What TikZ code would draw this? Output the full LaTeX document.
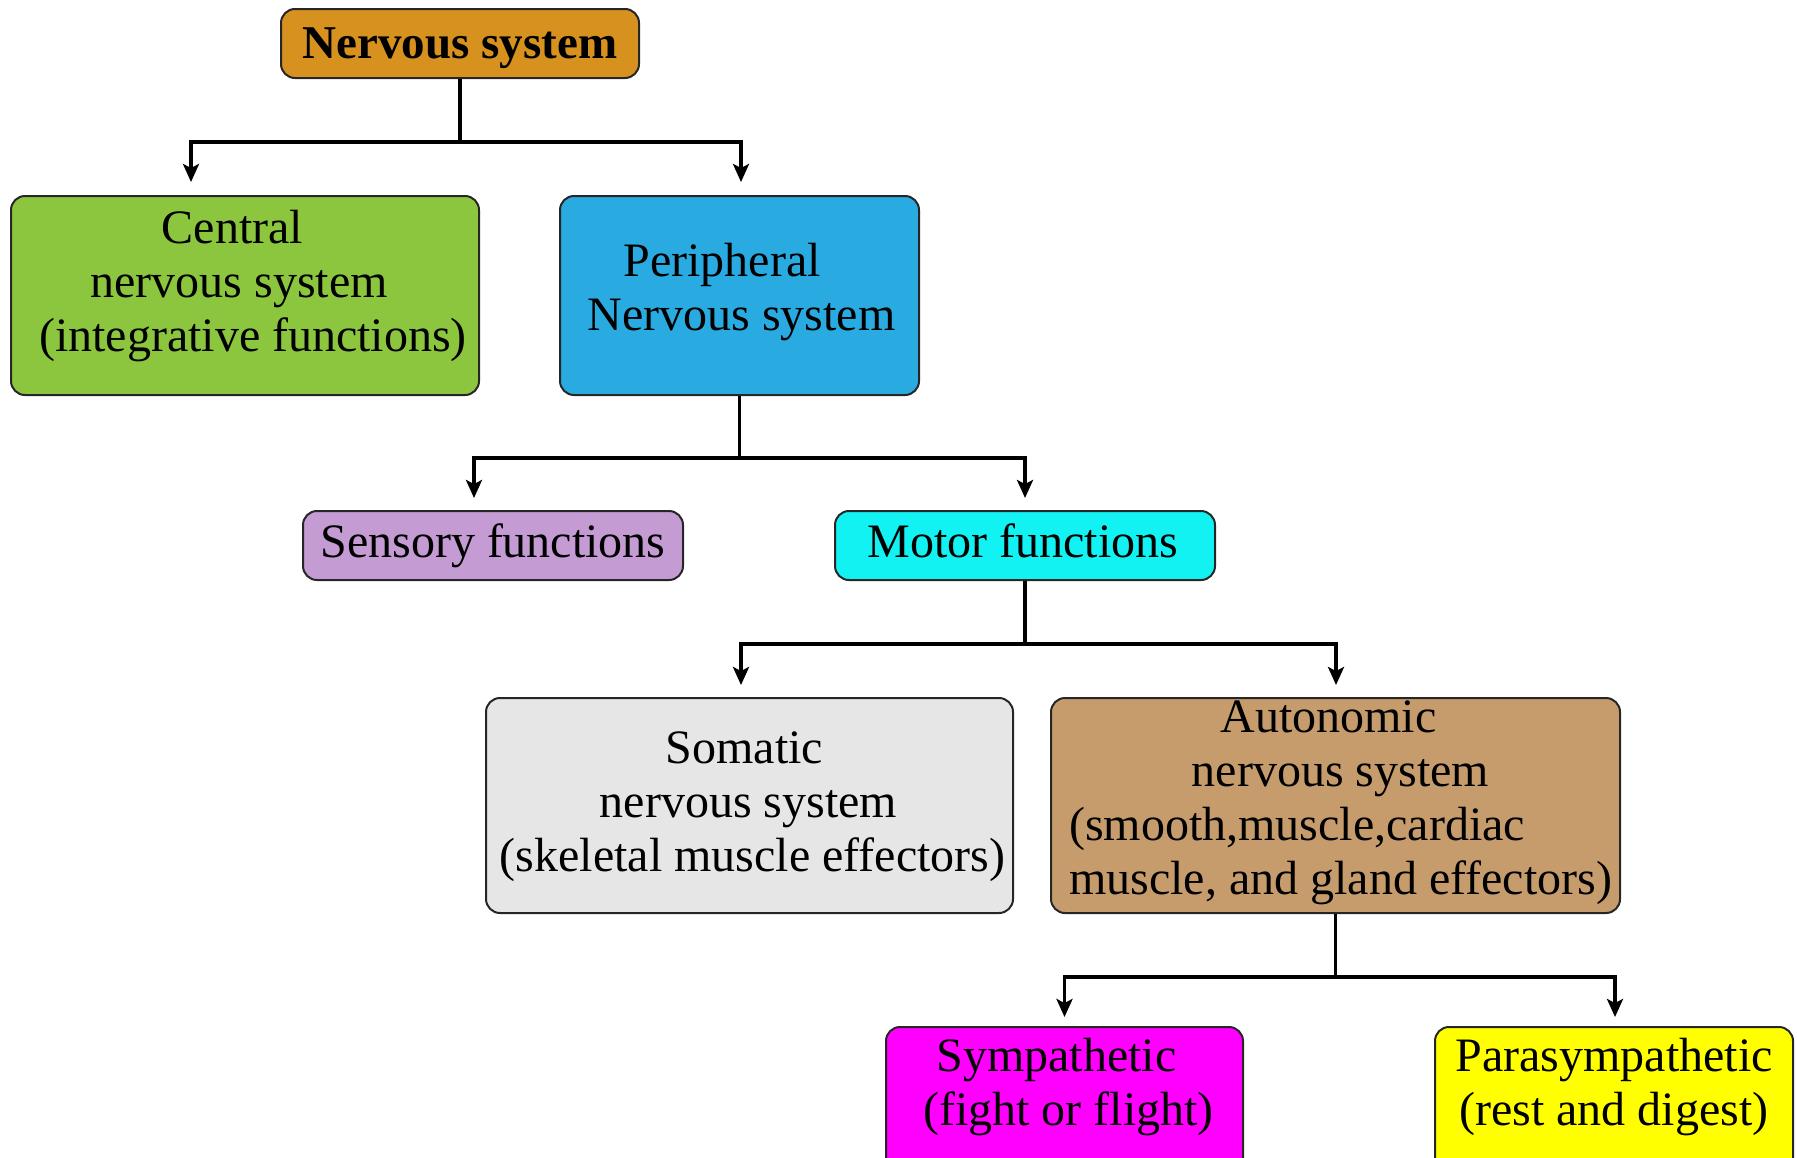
\documentclass[tikz,border=0pt]{standalone}
\usepackage{fontspec}
\setmainfont{Liberation Serif}
\usetikzlibrary{arrows.meta,calc}
\newlength\linewd
\definecolor{nsorange}{HTML}{D6911E}
\definecolor{cnsgreen}{HTML}{8CC63F}
\definecolor{pnsblue}{HTML}{29ABE2}
\definecolor{senslilac}{HTML}{C49BD2}
\definecolor{motcyan}{HTML}{12F2F2}
\definecolor{somgray}{HTML}{E6E6E6}
\definecolor{auttan}{HTML}{C69C6D}
\definecolor{symmag}{HTML}{FF00FF}
\definecolor{parayel}{HTML}{FFFF00}
\begin{document}
\begin{tikzpicture}[x=0.5pt,y=-0.5pt,
  box/.style={draw=black!85, line width=1pt, rounded corners=7pt, inner sep=0pt},
  lbl/.style={align=center, font=\fontsize{24}{27}\selectfont, inner sep=0pt},
  link/.style={line width=1.65pt, draw=black},
  arr/.style={link, -{Stealth[length=9pt,width=8pt,inset=2pt]}}
]
\useasboundingbox (0,0) rectangle (1797,1157);
\clip (0,0) rectangle (1797,1157);

% boxes
\node[box, fill=nsorange, minimum width=179pt, minimum height=34.5pt,
  label={[lbl, yshift=-2.3pt, font=\bfseries\fontsize{23.5}{27}\selectfont]center:Nervous system}] (ns) at (460,43.5) {};
\node[box, fill=cnsgreen, minimum width=234pt, minimum height=99.5pt,
  label={[lbl, yshift=4.9pt, xshift=4pt]center:{Central\rule{20.6pt}{0pt}\\nervous system\rule{13.7pt}{0pt}\\(integrative functions)}}] (cns) at (245,295.5) {};
\node[box, fill=pnsblue, minimum width=179.5pt, minimum height=99.5pt,
  label={[lbl, yshift=1.9pt, xshift=1pt]center:{Peripheral\rule{19.5pt}{0pt}\\Nervous system}}] (pns) at (739.5,295.5) {};
\node[box, fill=senslilac, minimum width=190pt, minimum height=34.5pt,
  label={[lbl, yshift=-0.1pt]center:Sensory functions}] (sens) at (493,545.5) {};
\node[box, fill=motcyan, minimum width=190pt, minimum height=34.5pt,
  label={[lbl, yshift=2.1pt, xshift=-1pt]center:Motor functions}] (mot) at (1025,545.5) {};
\node[box, fill=somgray, minimum width=263.5pt, minimum height=107.5pt,
  label={[lbl, yshift=-0.7pt, xshift=1.5pt]center:{Somatic\rule{8pt}{0pt}\\nervous system\rule{4pt}{0pt}\\(skeletal muscle effectors)}}] (som) at (749.5,805.5) {};
\node[box, fill=auttan, minimum width=284.5pt, minimum height=107.5pt,
  label={[lbl, yshift=1.3pt, xshift=2.5pt]center:{Autonomic\rule{12pt}{0pt}\\nervous system\\\settowidth\linewd{muscle, and gland effectors)}\makebox[\linewd][l]{(smooth,muscle,cardiac}\\muscle, and gland effectors)}}] (aut) at (1335.5,805.5) {};
\node[box, fill=symmag, minimum width=178.5pt, minimum height=86.5pt,
  label={[lbl, yshift=13.45pt, xshift=2pt]center:{Sympathetic\rule{12pt}{0pt}\\(fight or flight)}}] (sym) at (1064.5,1113.5) {};
\node[box, fill=parayel, minimum width=179pt, minimum height=86.5pt,
  label={[lbl, yshift=13.45pt]center:{Parasympathetic\\(rest and digest)}}] (para) at (1614,1113.5) {};

% connectors
\draw[link] (ns.south) -- ++(0,63) coordinate (j1);
\draw[arr] (j1) -| ($(cns.north)+(-54,-13)$);
\draw[arr] (j1) -| ($(pns.north)+(1.5,-13)$);

\draw[link] (pns.south) -- ++(0,62) coordinate (j2);
\draw[arr] (j2) -| ($(sens.north)+(-19,-12)$);
\draw[arr] (j2) -| ($(mot.north)+(0,-12)$);

\draw[link] (mot.south) -- ++(0,63) coordinate (j3);
\draw[arr] (j3) -| ($(som.north)+(-8.5,-12)$);
\draw[arr] (j3) -| ($(aut.north)+(0.5,-12)$);

\draw[link] (aut.south) -- ++(0,63) coordinate (j4);
\draw[arr] (j4) -| ($(sym.north)+(0,-9)$);
\draw[arr] (j4) -| ($(para.north)+(1,-9)$);
\end{tikzpicture}
\end{document}
